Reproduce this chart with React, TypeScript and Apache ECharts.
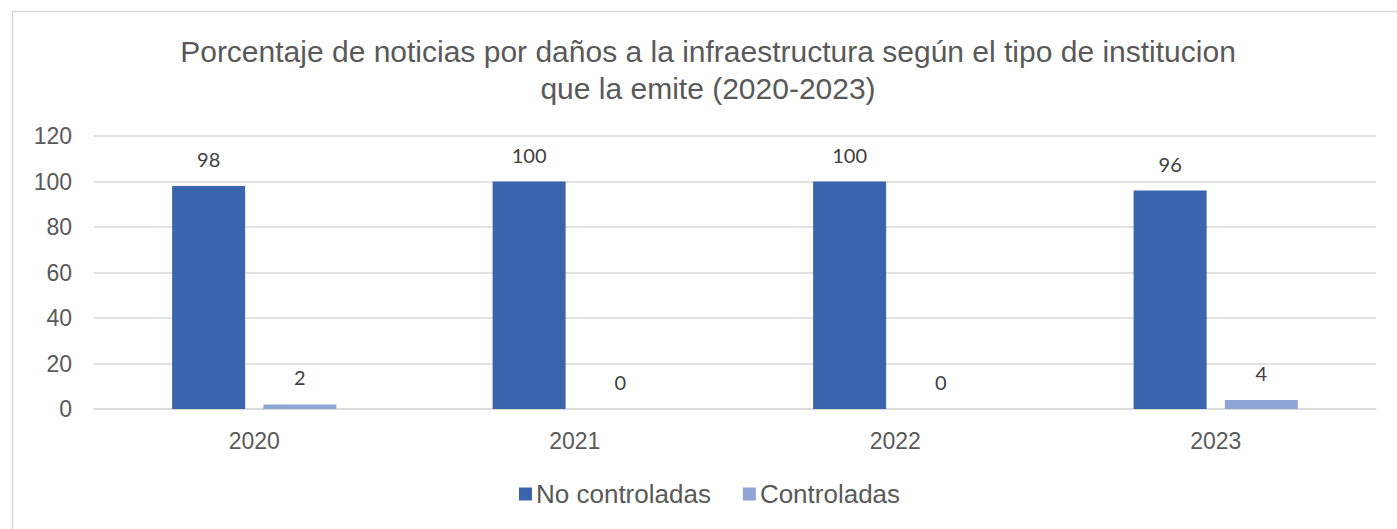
import React, { useEffect, useRef } from "react";
import * as echarts from "echarts";

const titleText =
  "Porcentaje de noticias por daños a la infraestructura según el tipo de institucion\nque la emite (2020-2023)";
const categories = ["2020", "2021", "2022", "2023"];
const noControladas = [98, 100, 100, 96];
const controladas = [2, 0, 0, 4];
const yTicks = { min: 0, max: 120, interval: 20 };

export default function App() {
  const ref = useRef<HTMLDivElement>(null);
  useEffect(() => {
    document.body.style.margin = "0";
    if (!ref.current) return;
    const chart = echarts.init(ref.current, undefined, { renderer: "svg" });
    const font = "'Liberation Sans', Arial, sans-serif";
    const labelFont = "Lato, 'Open Sans', sans-serif";
    chart.setOption({
      animation: false,
      backgroundColor: "#ffffff",
      title: {
        text: titleText,
        left: 708,
        top: 33,
        padding: 0,
        textAlign: "center",
        textStyle: {
          fontFamily: font,
          fontSize: 30,
          fontWeight: "normal",
          color: "#595959",
          lineHeight: 37,
        },
      },
      graphic: [
        {
          type: "rect",
          shape: { x: 12.5, y: 11.5, width: 1400, height: 530 },
          style: { fill: "none", stroke: "#d9d9d9", lineWidth: 1.5 },
          silent: true,
        },
      ],
      legend: {
        data: ["No controladas", "Controladas"],
        left: 519,
        top: 481,
        padding: 0,
        itemWidth: 13,
        itemHeight: 13,
        itemGap: 32,
        icon: "rect",
        textStyle: {
          fontFamily: font,
          fontSize: 26,
          color: "#595959",
          padding: [0, 0, 0, -1],
        },
      },
      grid: {
        left: 94,
        right: 21,
        top: 136,
        bottom: 120,
        containLabel: false,
      },
      xAxis: {
        type: "category",
        data: categories,
        axisLine: { show: true, lineStyle: { color: "#d9d9d9", width: 1.5 } },
        axisTick: { show: false },
        axisLabel: {
          fontFamily: font,
          fontSize: 23,
          color: "#595959",
          margin: 20,
        },
      },
      yAxis: {
        type: "value",
        min: yTicks.min,
        max: yTicks.max,
        interval: yTicks.interval,
        axisLine: { show: false },
        axisTick: { show: false },
        splitLine: { lineStyle: { color: "#d9d9d9", width: 1.5 } },
        axisLabel: {
          fontFamily: font,
          fontSize: 23,
          color: "#595959",
          margin: 22,
        },
      },
      series: [
        {
          name: "No controladas",
          type: "bar",
          data: noControladas,
          barWidth: 73,
          barGap: "25%",
          itemStyle: { color: "#3a64ab" },
          label: {
            show: true,
            position: "top",
            distance: 17,
            fontFamily: labelFont,
            fontSize: 20,
            color: "#404040",
          },
        },
        {
          name: "Controladas",
          type: "bar",
          data: controladas,
          barWidth: 73,
          itemStyle: { color: "#8ea5d6" },
          label: {
            show: true,
            position: "top",
            distance: 17,
            fontFamily: labelFont,
            fontSize: 20,
            color: "#404040",
          },
        },
      ],
    });
    return () => chart.dispose();
  }, []);
  return <div ref={ref} style={{ width: 1397, height: 529 }} />;
}
